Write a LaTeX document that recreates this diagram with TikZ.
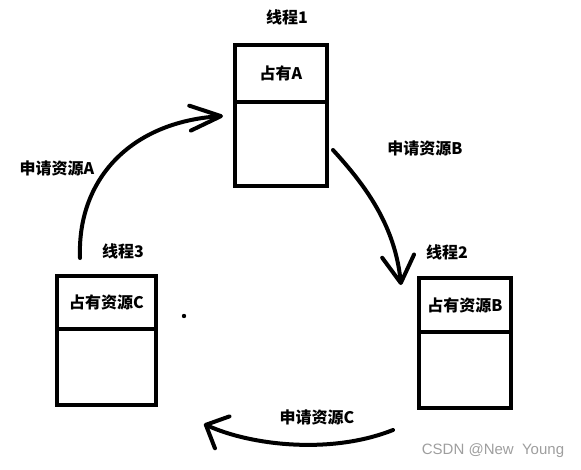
\documentclass[tikz,border=0pt]{standalone}
\usepackage{fontspec}
\newfontfamily\cjk{Noto Sans CJK SC}
\newfontfamily\wmfont{Liberation Sans}
\usetikzlibrary{arrows.meta}
\begin{document}
\begin{tikzpicture}[x=1pt,y=-1pt,
  txt/.style={font=\cjk\bfseries\fontsize{16}{19}\selectfont, inner sep=0pt},
  cell/.style={txt, draw, line width=4.8pt, minimum width=#1},
  conn/.style={line width=4pt, line cap=round},
  wmk/.style={font=\wmfont\fontsize{15}{18}\selectfont, text=black!38, inner sep=0pt}]
\useasboundingbox (0,0) rectangle (581,469);
% thread 1
\node[txt] (t1) at (287,17) {线程1};
\node[cell=92pt, minimum height=57pt] (b1t) at (281,73.5) {占有A};
\node[cell=92pt, minimum height=84pt] (b1b) at (281,144) {};
% thread 2
\node[txt] (t2) at (447,252) {线程2};
\node[cell=92pt, minimum height=54pt] (b2t) at (465,305) {占有资源B};
\node[cell=92pt, minimum height=76pt] (b2b) at (465,370) {};
% thread 3
\node[txt] (t3) at (123,251) {线程3};
\node[cell=99pt, minimum height=53pt] (b3t) at (106.5,302.5) {占有资源C};
\node[cell=99pt, minimum height=76pt] (b3b) at (106.5,367) {};
% request labels
\node[txt] (rA) at (57,168) {申请资源A};
\node[txt] (rB) at (425,148) {申请资源B};
\node[txt] (rC) at (317,417) {申请资源C};
% connector end points
\coordinate (sA) at (80,258);
\coordinate (eA) at (223,116);
\coordinate (sB) at (333,150);
\coordinate (eB) at (401,285);
\coordinate (sC) at (393,430);
\coordinate (eC) at (204,424);
\draw[conn, -{Straight Barb[length=31pt,width=25pt,round]}] (sA) .. controls (77,180) and (130,122) .. (eA);
\draw[conn, -{Straight Barb[length=27pt,width=32pt,round]}] (sB) .. controls (365,185) and (395,225) .. (eB);
\draw[conn, -{Straight Barb[length=18pt,width=35pt,round]}] (sC) .. controls (330,455) and (250,445) .. (eC);
% stray dot
\fill (184,316) circle (2.2pt);
% watermark
\node[wmk] (wm) at (493,451) {CSDN @New\ \ Young};
\end{tikzpicture}
\end{document}
